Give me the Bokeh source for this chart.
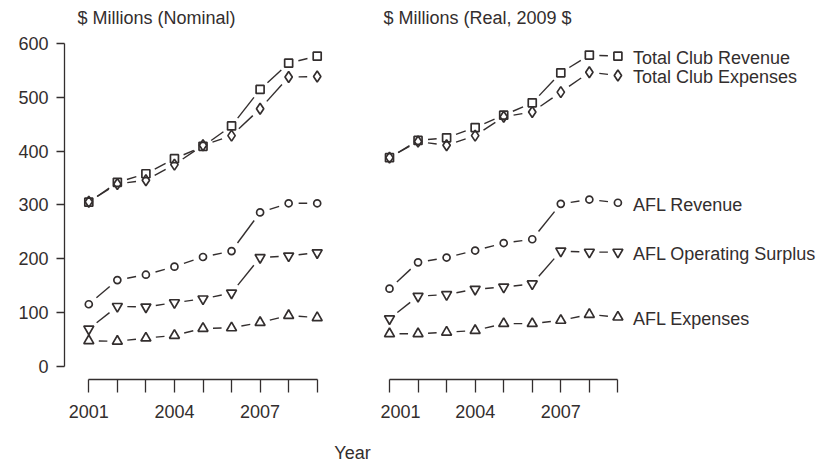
import math
from bokeh.plotting import figure
from bokeh.layouts import row, column
from bokeh.models import Range1d, FixedTicker, ColumnDataSource
from bokeh.core.properties import value
from bokeh.embed import file_html
from bokeh.resources import INLINE

# ---------------- data ----------------
years = [2001, 2002, 2003, 2004, 2005, 2006, 2007, 2008, 2009]
labelled_years = [2001, 2004, 2007]
y_ticks = [0, 100, 200, 300, 400, 500, 600]

series_names = ["Total Club Revenue", "Total Club Expenses", "AFL Revenue",
                "AFL Operating Surplus", "AFL Expenses"]
panel_titles = ["$ Millions (Nominal)", "$ Millions (Real, 2009 $"]
x_title = "Year"

club_rev_nom = [305, 342, 358, 386, 409, 447, 515, 564, 577]
club_exp_nom = [306, 339, 346, 375, 411, 429, 479, 538, 539]
afl_rev_nom = [115, 160, 170, 185, 203, 214, 286, 303, 303]
afl_sur_nom = [69, 111, 110, 118, 125, 136, 202, 205, 211]
afl_exp_nom = [47, 46, 52, 57, 70, 71, 81, 94, 90]

club_rev_real = [388, 420, 425, 444, 467, 490, 546, 579, 577]
club_exp_real = [388, 418, 411, 429, 464, 473, 510, 547, 541]
afl_rev_real = [144, 193, 202, 215, 229, 236, 302, 310, 304]
afl_sur_real = [88, 130, 133, 143, 147, 153, 214, 212, 212]
afl_exp_real = [60, 60, 63, 66, 79, 79, 85, 96, 91]

# ---------------- style / layout ----------------
INK = "#332e2e"
FONT = "Liberation Sans"
FS = "18px"
H = 430                      # height of the two panels
FH = 379                     # frame height (frame top at page top)
MBB = H - FH
PXX = 28.55                  # pixels per year
PXY = 322.2 / 600            # pixels per $M
Y0 = -(FH - 365.5) / PXY
Y1 = Y0 + FH / PXY
GAP = 10                     # R type="b" gap around points (px)
TITLE_Y = (365.5 - 17) / PXY

markers = ["square", "diamond", "circle", "inverted_triangle", "triangle"]
msizes = [8, 11, 7, 10, 10]


def style_axis(ax):
    ax.major_tick_in = 0
    ax.minor_tick_line_color = None
    ax.major_label_standoff = 12
    ax.axis_line_color = INK
    ax.major_tick_line_color = INK
    ax.axis_line_width = 1.3
    ax.major_tick_line_width = 1.3
    ax.major_label_text_font = FONT
    ax.major_label_text_font_size = FS
    ax.major_label_text_color = INK


def base_fig(width, mbl, mbr, x0, ylocation):
    fw = width - mbl - mbr
    p = figure(width=width, height=H, output_backend="svg", toolbar_location=None,
               x_range=Range1d(x0, x0 + fw / PXX), y_range=Range1d(Y0, Y1),
               min_border_left=mbl, min_border_right=mbr,
               min_border_top=0, min_border_bottom=MBB,
               y_axis_location=ylocation)
    p.outline_line_color = None
    p.xgrid.visible = False
    p.ygrid.visible = False
    p.background_fill_color = "white"
    p.border_fill_color = "white"
    ax = p.xaxis[0]
    ax.ticker = FixedTicker(ticks=years)
    ax.bounds = (years[0], years[-1])
    ax.major_label_overrides = {y: ("" if y not in labelled_years else str(y)) for y in years}
    style_axis(ax)
    ax.major_tick_out = 13
    return p


def draw_series(p, ys, marker, size):
    # lines with gaps around the points (R type = "b")
    xs0, ys0, xs1, ys1 = [], [], [], []
    for i in range(len(years) - 1):
        dxd = years[i + 1] - years[i]
        dyd = ys[i + 1] - ys[i]
        L = math.hypot(dxd * PXX, dyd * PXY)
        if L > 2 * GAP + 1:
            f = GAP / L
            xs0.append(years[i] + f * dxd)
            ys0.append(ys[i] + f * dyd)
            xs1.append(years[i + 1] - f * dxd)
            ys1.append(ys[i + 1] - f * dyd)
    p.segment(x0=xs0, y0=ys0, x1=xs1, y1=ys1, line_color=INK, line_width=1.4)
    p.scatter(x=years, y=ys, marker=marker, size=size, fill_color=None,
              line_color=INK, line_width=1.7)


def add_title(p, x, txt):
    p.text(x=[x], y=[TITLE_Y], text=[txt], text_baseline="middle", text_align="left",
           text_font=value(FONT), text_font_size=FS, text_color=INK)


# ---------------- left panel (nominal) ----------------
X0_left = years[0] - (88.3 - 64) / PXX
p1 = base_fig(380, 64, 38, X0_left, "left")
ay = p1.yaxis[0]
ay.ticker = FixedTicker(ticks=y_ticks)
ay.bounds = (y_ticks[0], y_ticks[-1])
style_axis(ay)
ay.major_tick_out = 8
ay.major_label_standoff = 8

nominal = [club_rev_nom, club_exp_nom, afl_rev_nom, afl_sur_nom, afl_exp_nom]
for ys, m, s in zip(nominal, markers, msizes):
    draw_series(p1, ys, m, s)
add_title(p1, X0_left + 13 / PXX, panel_titles[0])

# ---------------- right panel (real) ----------------
X0_right = years[0] - 9 / PXX
p2 = base_fig(442, 0, 0, X0_right, None)

real = [club_rev_real, club_exp_real, afl_rev_real, afl_sur_real, afl_exp_real]
for ys, m, s in zip(real, markers, msizes):
    draw_series(p2, ys, m, s)
add_title(p2, X0_right + 3 / PXX, panel_titles[1])

src = ColumnDataSource(dict(x=[years[-1]] * len(real), y=[r[-1] for r in real],
                            t=series_names))
p2.text(x="x", y="y", text="t", source=src, x_offset=15, y_offset=2,
        text_baseline="middle", text_align="left", text_font=value(FONT),
        text_font_size=FS, text_color=INK)

# ---------------- bottom strip with the shared x title ----------------
p3 = figure(width=822, height=36, output_backend="svg", toolbar_location=None,
            x_range=Range1d(0, 822), y_range=Range1d(0, 36),
            x_axis_location=None, y_axis_location=None, min_border=0)
p3.outline_line_color = None
p3.xgrid.visible = False
p3.ygrid.visible = False
p3.text(x=[352], y=[14], text=[x_title], text_baseline="middle", text_align="center",
        text_font=value(FONT), text_font_size=FS, text_color=INK)

layout = column(row(p1, p2), p3)
open("out.html", "w").write(file_html(layout, INLINE))
